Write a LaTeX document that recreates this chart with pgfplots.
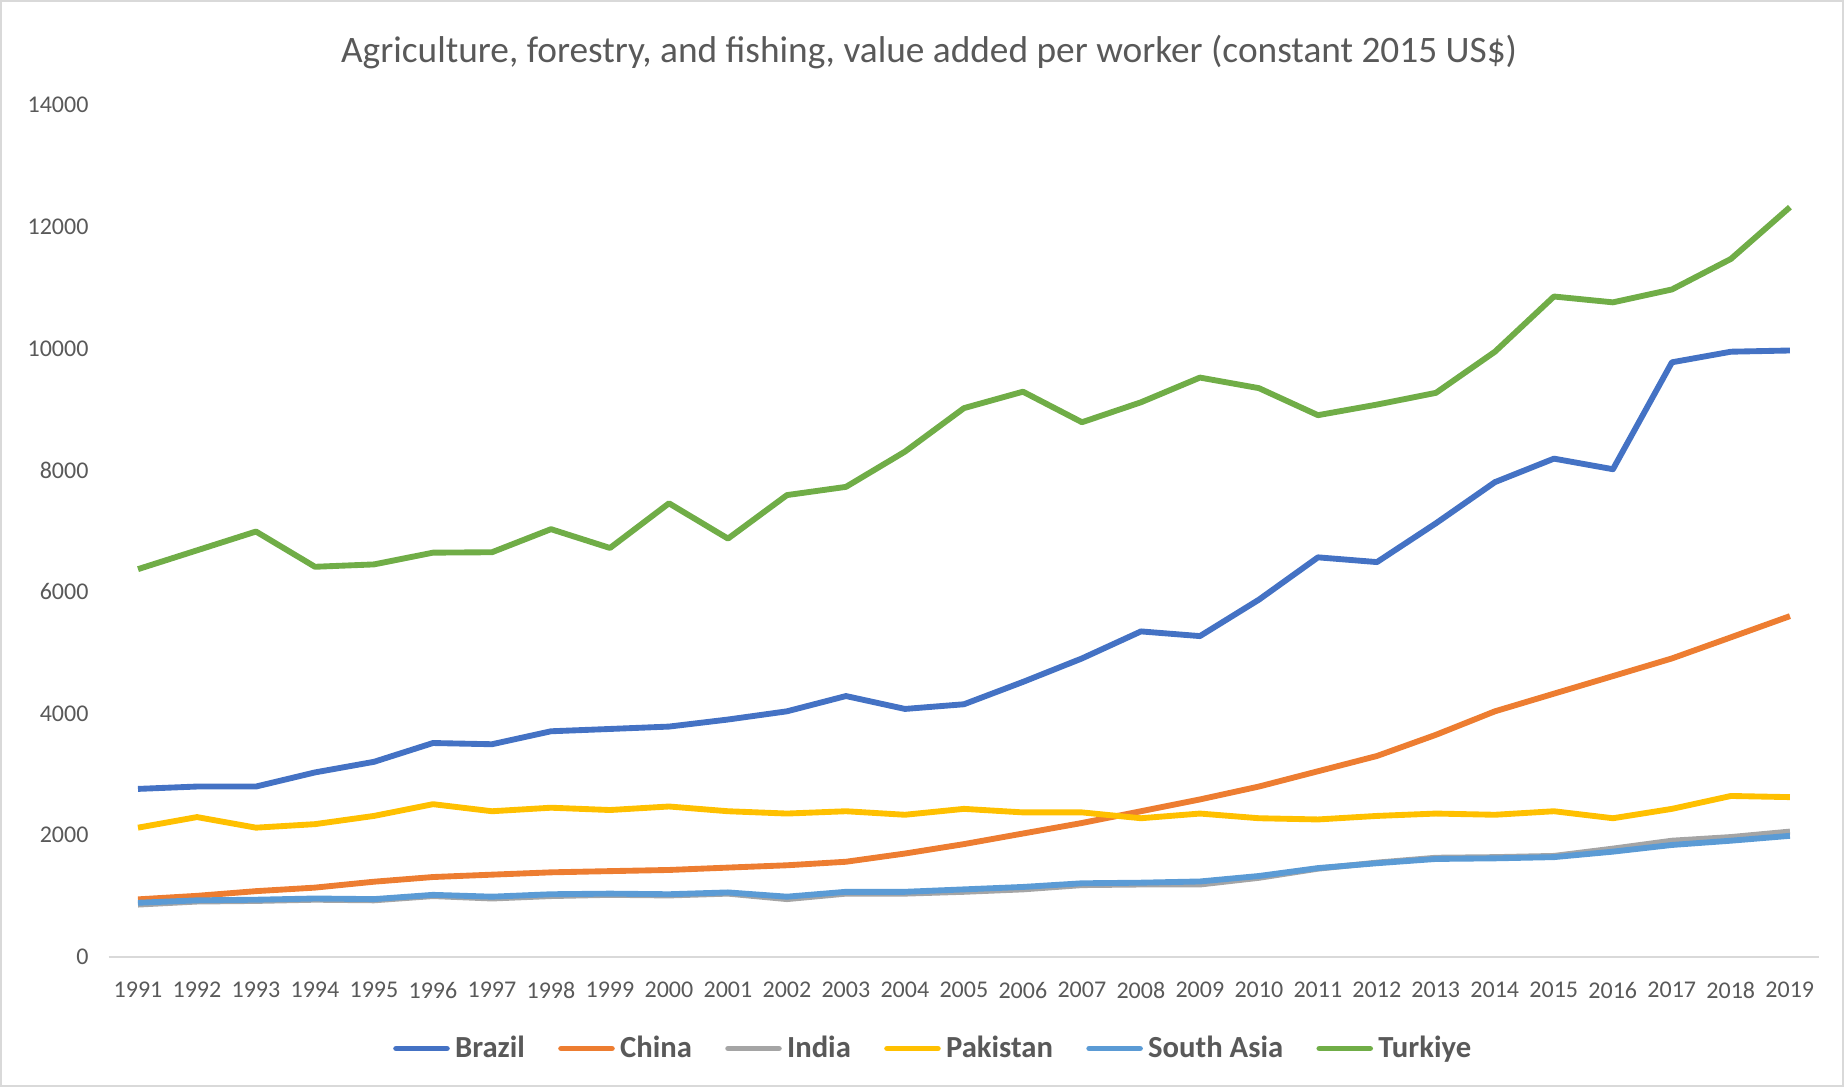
\documentclass[border=0pt]{standalone}
\usepackage{pgfplots}
\pgfplotsset{compat=1.18}
\usepackage{pgfplotstable}
\usepackage{fontspec}
\setmainfont{Carlito}
\definecolor{cBrazil}{HTML}{4472C4}
\definecolor{cChina}{HTML}{ED7D31}
\definecolor{cIndia}{HTML}{A5A5A5}
\definecolor{cPak}{HTML}{FFC000}
\definecolor{cSA}{HTML}{5B9BD5}
\definecolor{cTur}{HTML}{70AD47}
\definecolor{txt}{HTML}{595959}
\definecolor{axl}{HTML}{D9D9D9}
\pgfplotstableread{
year brazil china india pakistan southasia turkiye
1991 2761 946 860 2124 890 6372
1992 2800 1004 910 2298 930 6681
1993 2800 1081 920 2124 940 6990
1994 3032 1139 940 2182 960 6411
1995 3206 1236 930 2317 950 6450
1996 3515 1313 1000 2510 1020 6643
1997 3495 1352 960 2394 990 6650
1998 3708 1390 1000 2452 1030 7029
1999 3746 1410 1020 2414 1040 6720
2000 3785 1429 1010 2472 1030 7454
2001 3901 1468 1040 2394 1060 6874
2002 4036 1506 950 2356 990 7589
2003 4287 1564 1040 2394 1070 7724
2004 4075 1699 1040 2336 1070 8303
2005 4152 1854 1070 2433 1110 9018
2006 4519 2028 1110 2375 1150 9288
2007 4905 2201 1180 2375 1210 8786
2008 5349 2394 1190 2279 1220 9114
2009 5272 2588 1190 2356 1240 9520
2010 5871 2800 1300 2279 1330 9346
2011 6566 3051 1450 2259 1460 8902
2012 6488 3302 1550 2317 1540 9076
2013 7126 3650 1630 2356 1610 9269
2014 7802 4036 1640 2336 1620 9945
2015 8188 4326 1660 2394 1640 10852
2016 8014 4615 1780 2279 1730 10756
2017 9771 4905 1910 2433 1840 10968
2018 9945 5252 1970 2645 1910 11470
2019 9965 5600 2060 2626 1990 12320
}\datatable
\begin{document}
\begin{tikzpicture}
\useasboundingbox (0,0) rectangle (691.5pt,407.6pt);
\draw[axl, line width=0.8pt] (0.4pt,0.4pt) rectangle (691.1pt,407.2pt);
\node[font=\fontsize{14}{16}\selectfont, text=txt] at (348.4pt,388.1pt) {Agriculture, forestry, and fishing, value added per worker (constant 2015 US\$)};
\begin{axis}[
  at={(40.69pt,48.75pt)}, anchor=origin,
  scale only axis,
  width=641.6pt, height=319.5pt,
  xmin=1990.5, xmax=2019.5,
  ymin=0, ymax=14000,
  xtick={1991,...,2019},
  ytick={0,2000,...,14000},
  scaled y ticks=false,
  scaled x ticks=false,
  axis x line*=bottom,
  axis y line*=left,
  y axis line style={draw=none},
  x axis line style={draw=axl, line width=0.8pt, -},
  tick style={draw=none},
  /pgf/number format/1000 sep={},
  /pgf/number format/assume math mode=true,
  ticklabel style={font=\fontsize{9}{10}\selectfont, text=txt},
  xticklabel style={yshift=-6pt},
  yticklabel style={xshift=-4pt},
  legend columns=6,
  legend style={at={(0.4830,-0.1075)}, anchor=center, draw=none, fill=none,
    font=\fontsize{11.5}{13}\selectfont\bfseries, text=txt,
    /tikz/every even column/.append style={column sep=10.5pt},
    inner sep=0pt},
  legend image code/.code={\draw[#1, line width=2.2pt, line cap=round] (0pt,0pt) -- (19pt,0pt);},
  every axis plot/.append style={line width=2.2pt, line join=round, no markers},
]
\addplot[cBrazil] table[x=year, y=brazil] {\datatable};
\addlegendentry{Brazil}
\addplot[cChina] table[x=year, y=china] {\datatable};
\addlegendentry{China}
\addplot[cIndia] table[x=year, y=india] {\datatable};
\addlegendentry{India}
\addplot[cPak] table[x=year, y=pakistan] {\datatable};
\addlegendentry{Pakistan}
\addplot[cSA] table[x=year, y=southasia] {\datatable};
\addlegendentry{South Asia}
\addplot[cTur] table[x=year, y=turkiye] {\datatable};
\addlegendentry{Turkiye}
\end{axis}
\end{tikzpicture}
\end{document}
